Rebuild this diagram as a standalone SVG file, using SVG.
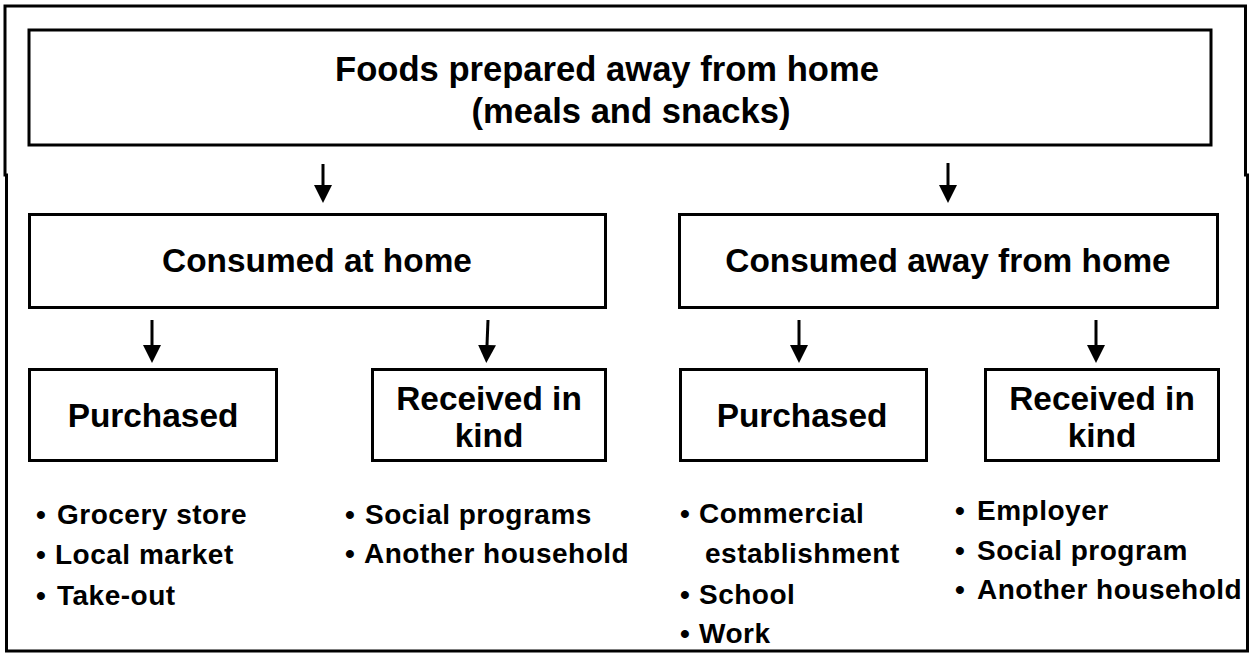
<svg xmlns="http://www.w3.org/2000/svg" width="1250" height="658" viewBox="0 0 1250 658">
  <style>
    .box { fill: #fff; stroke: #000; stroke-width: 3; }
    .t { font-family: "Liberation Sans", Arial, sans-serif; font-weight: bold; fill: #000; }
    .title { font-size: 34.6px; }
    .lbl { font-size: 33.4px; text-anchor: middle; }
    .b { font-size: 28px; letter-spacing: 0.5px; }
    .conn line { stroke: #000; stroke-width: 3; }
  </style>
  <defs>
    <marker id="ah" markerUnits="userSpaceOnUse" markerWidth="18" markerHeight="18" refX="0" refY="9" orient="auto" viewBox="0 0 18 18">
      <path d="M0,0 L18,9 L0,18 Z" fill="#000"/>
    </marker>
  </defs>
  <rect width="1250" height="658" fill="#fff"/>
  <path d="M5,6 H1245.5 V175 H1247.5 V651 H6.5 V175 H5 Z" fill="none" stroke="#000" stroke-width="3"/>

  <g id="root">
    <rect class="box" x="29" y="30" width="1182" height="115" stroke-width="4"/>
    <text class="t title" x="607" y="81" text-anchor="middle">Foods prepared away from home</text>
    <text class="t title" x="631" y="123" text-anchor="middle">(meals and snacks)</text>
  </g>

  <g id="home">
    <rect class="box" x="29.5" y="214.5" width="576" height="93"/>
    <text class="t lbl" x="317" y="272">Consumed at home</text>
  </g>

  <g id="away">
    <rect class="box" x="679.5" y="214.5" width="538" height="93"/>
    <text class="t lbl" x="948" y="272">Consumed away from home</text>
  </g>

  <g id="home-purchased">
    <rect class="box" x="29.5" y="369.5" width="247" height="91"/>
    <text class="t lbl" x="153" y="427">Purchased</text>
  </g>

  <g id="home-kind">
    <rect class="box" x="372.5" y="369.5" width="233" height="91"/>
    <text class="t lbl" x="489" y="410">Received in</text>
    <text class="t lbl" x="489" y="447">kind</text>
  </g>

  <g id="away-purchased">
    <rect class="box" x="680.5" y="369.5" width="246" height="91"/>
    <text class="t lbl" x="802" y="427">Purchased</text>
  </g>

  <g id="away-kind">
    <rect class="box" x="985.5" y="369.5" width="233" height="91"/>
    <text class="t lbl" x="1102" y="410">Received in</text>
    <text class="t lbl" x="1102" y="447">kind</text>
  </g>

  <g id="list-home-purchased" class="t b">
    <text x="36" y="524">•</text><text x="57" y="524">Grocery store</text>
    <text x="36" y="564">•</text><text x="55" y="564">Local market</text>
    <text x="36" y="605">•</text><text x="57" y="605">Take-out</text>
  </g>

  <g id="list-home-kind" class="t b">
    <text x="345" y="524">•</text><text x="365" y="524">Social programs</text>
    <text x="345" y="563">•</text><text x="364" y="563">Another household</text>
  </g>

  <g id="list-away-purchased" class="t b">
    <text x="680" y="523">•</text><text x="699" y="523">Commercial</text>
    <text x="705" y="563">establishment</text>
    <text x="680" y="604">•</text><text x="699" y="604">School</text>
    <text x="680" y="643">•</text><text x="699" y="643">Work</text>
  </g>

  <g id="list-away-kind" class="t b">
    <text x="955" y="520">•</text><text x="977" y="520">Employer</text>
    <text x="955" y="560">•</text><text x="977" y="560">Social program</text>
    <text x="955" y="599">•</text><text x="977" y="599">Another household</text>
  </g>

  <g id="connectors" class="conn">
    <line x1="323" y1="164" x2="323" y2="185" marker-end="url(#ah)"/>
    <line x1="948" y1="163" x2="948" y2="185" marker-end="url(#ah)"/>
    <line x1="152" y1="320" x2="152" y2="345" marker-end="url(#ah)"/>
    <line x1="488" y1="320" x2="487" y2="345" marker-end="url(#ah)"/>
    <line x1="799" y1="320" x2="799" y2="345" marker-end="url(#ah)"/>
    <line x1="1096" y1="320" x2="1096" y2="345" marker-end="url(#ah)"/>
  </g>
</svg>
